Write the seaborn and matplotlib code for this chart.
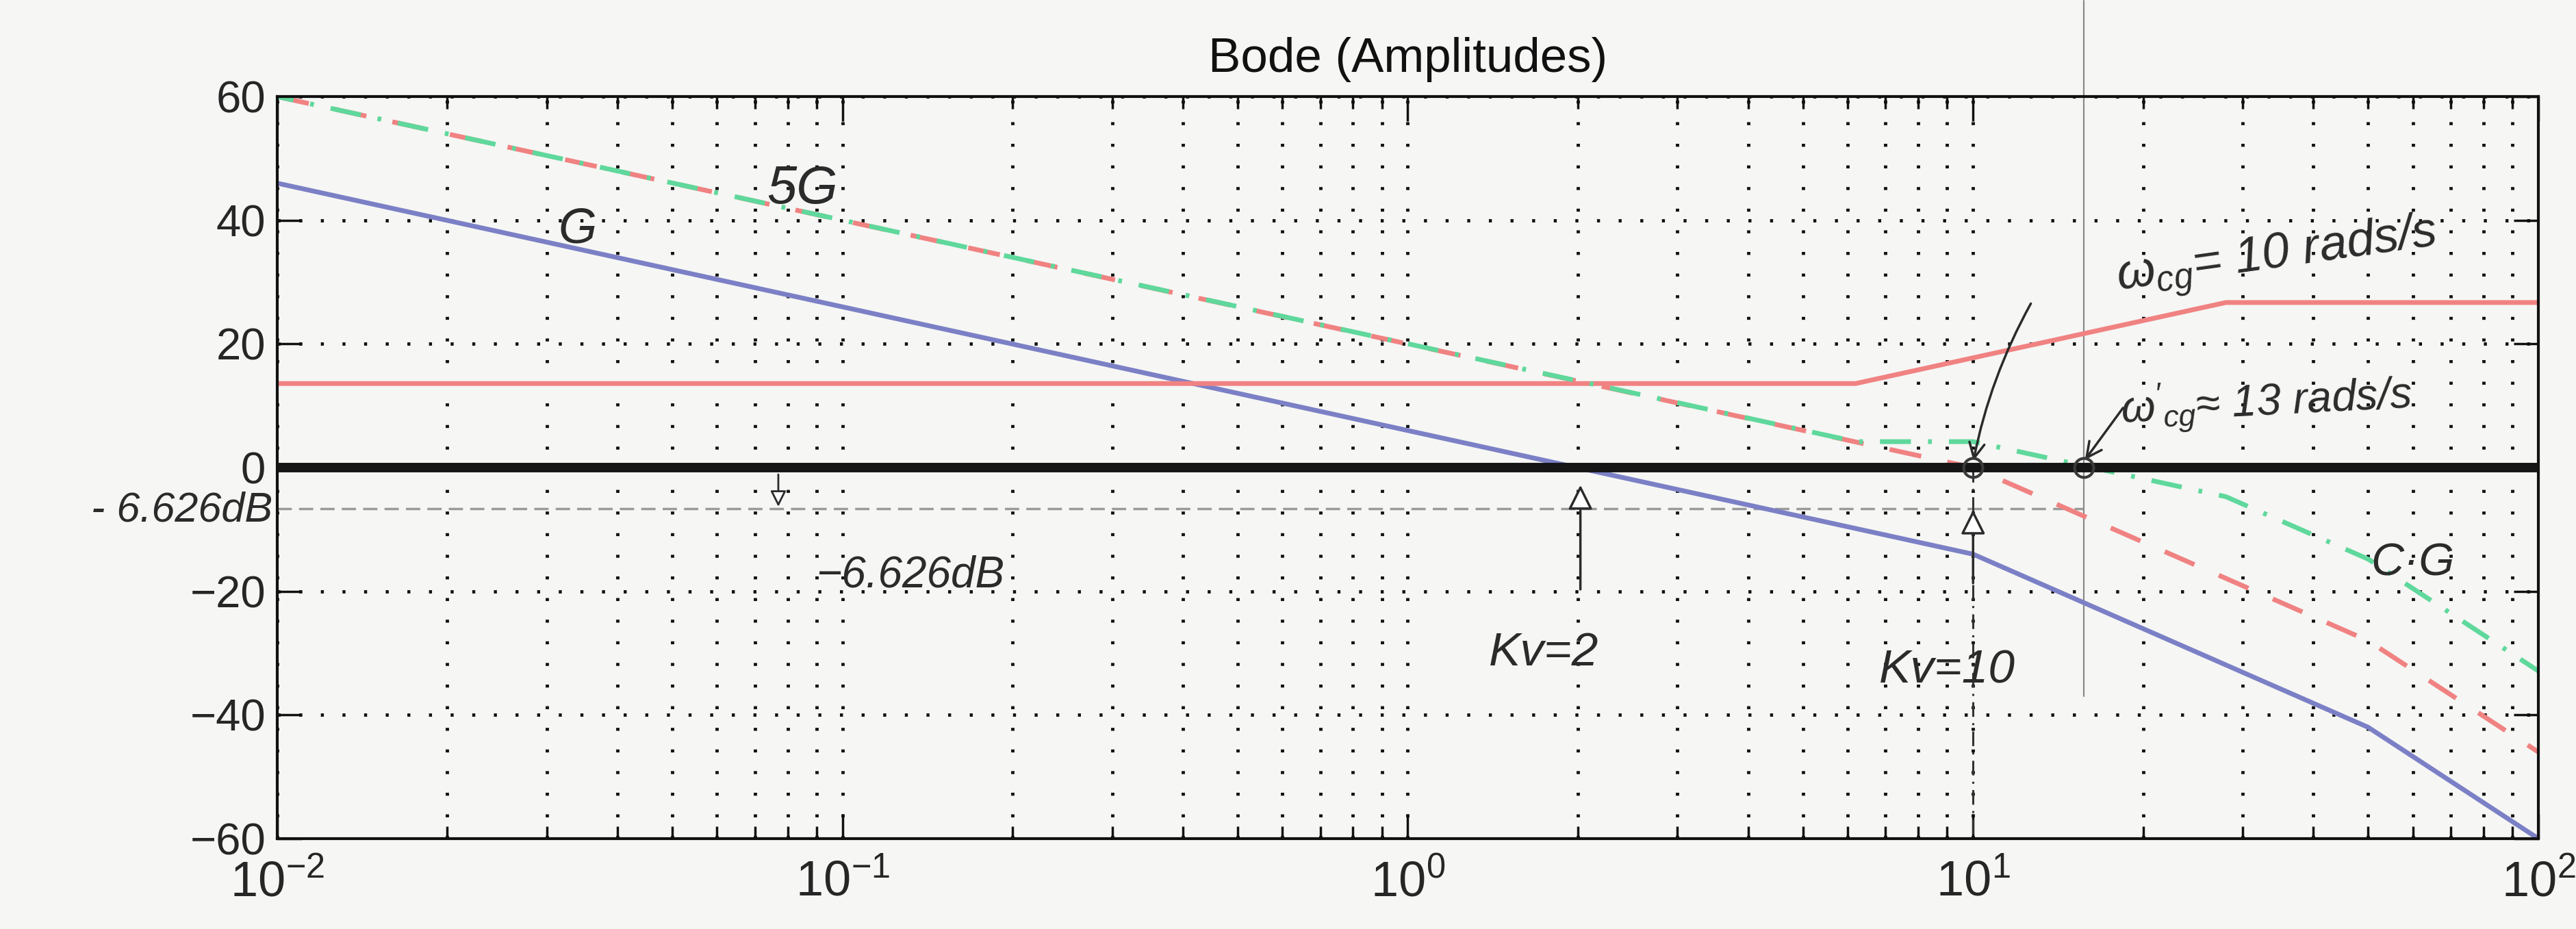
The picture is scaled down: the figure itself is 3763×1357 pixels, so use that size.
# Bode (Amplitudes) - asymptotic magnitude plot with hand notes
import seaborn as sns
import matplotlib.pyplot as plt
import pandas as pd
from matplotlib.ticker import LogLocator, NullFormatter, FixedLocator

# asymptotic magnitudes (dB)
freq_G = [0.01, 10, 50, 100]
mag_G = [46, -14, -42, -60]
freq_5G = [0.01, 10, 50, 100]
mag_5G = [60, 0, -28, -46]
freq_C = [0.01, 6.2, 28, 100]
mag_C = [13.6, 13.6, 26.7, 26.7]
freq_CG = [0.01, 6.2, 10, 28, 50, 100]
mag_CG = [60, 4.2, 4.2, -4.7, -14.8, -32.9]

y_ticks = [-60, -40, -20, 0, 20, 40, 60]
w_cg = 10        # crossover of 5G
w_cg_new = 15.7  # crossover of C*G
gain_drop = -6.626

bg = '#f6f6f4'
ink = '#2b2b2b'
blue = '#7b80c6'
red = '#f08282'
green = '#5fd89c'

sns.set_style("ticks")
plt.rcParams['font.family'] = ['Liberation Sans', 'DejaVu Sans']
plt.rcParams['mathtext.fontset'] = 'custom'
plt.rcParams['mathtext.rm'] = 'Liberation Sans'
plt.rcParams['mathtext.it'] = 'Liberation Sans:italic'
plt.rcParams['mathtext.default'] = 'regular'

fig = plt.figure(figsize=(37.63, 13.57), dpi=100, facecolor=bg)
ax = fig.add_axes([0.1076, 0.0973, 0.8778, 0.7987], facecolor=bg)

G = pd.DataFrame({'w': freq_G, 'dB': mag_G})
G5 = pd.DataFrame({'w': freq_5G, 'dB': mag_5G})
C = pd.DataFrame({'w': freq_C, 'dB': mag_C})
CG = pd.DataFrame({'w': freq_CG, 'dB': mag_CG})

lw = 5
sns.lineplot(data=G, x='w', y='dB', ax=ax, color=blue, lw=lw, zorder=2)
sns.lineplot(data=C, x='w', y='dB', ax=ax, color=red, lw=lw, zorder=2)
sns.lineplot(data=G5, x='w', y='dB', ax=ax, color=red, lw=lw,
             linestyle=(0, (6.8, 5.6)), zorder=2)
sns.lineplot(data=CG, x='w', y='dB', ax=ax, color=green, lw=lw,
             linestyle=(3, (6.5, 3.6, 0.8, 3.6)), zorder=2.1)

ax.set_xscale('log')
ax.set_xlim(0.01, 100)
ax.set_ylim(-60, 60)

# matlab style dotted grid
ax.xaxis.set_major_locator(LogLocator(base=10))
ax.xaxis.set_minor_locator(LogLocator(base=10, subs=range(2, 10)))
ax.xaxis.set_minor_formatter(NullFormatter())
ax.yaxis.set_major_locator(FixedLocator(y_ticks))
grid_kw = dict(color='#111111', lw=3.5, linestyle=(0, (0.9, 5.6)))
ax.grid(True, which='major', axis='both', **grid_kw)
ax.grid(True, which='minor', axis='x', **grid_kw)

ax.tick_params(which='both', direction='in', top=True, right=True,
               width=2.5, color='#111111')
ax.tick_params(which='major', length=26)
ax.tick_params(which='minor', length=13)
ax.tick_params(axis='x', labelsize=52, pad=22)
ax.tick_params(axis='y', labelsize=47, pad=12)
for s in ax.spines.values():
    s.set_linewidth(3)
    s.set_color('#111111')
ax.set_xlabel('')
ax.set_ylabel('')
ax.set_title('Bode (Amplitudes)', fontsize=51, pad=26, color='#111111')

# 0 dB line
ax.axhline(0, color='#151515', lw=10, zorder=3)

# hand notes
hand = dict(color=ink, style='italic', fontweight='light')
ax.plot([0.01, w_cg_new], [gain_drop, gain_drop], color='#9a9a9a', lw=2.5,
        linestyle=(0, (6, 3)), zorder=1.5)
ax.plot([w_cg, w_cg], [0, -60], color='#333333', lw=2.2,
        linestyle=(0, (7, 3, 1, 3)), zorder=1.5)
ax.plot([w_cg_new, w_cg_new], [-37, 75.5], color='#8a8a8a', lw=1.6,
        clip_on=False, zorder=1.5)
ax.plot([w_cg, w_cg_new], [0, 0], linestyle='none', marker='o', ms=20,
        mfc='none', mec='#3a3a3a', mew=3, zorder=4)

arrow_open = dict(arrowstyle='-|>', fc='white', ec=ink, lw=2.5,
                  mutation_scale=55)
ax.annotate('', xy=(2.02, -2.5), xytext=(2.02, -20), arrowprops=arrow_open)
ax.annotate('', xy=(w_cg, -6.5), xytext=(w_cg, -19), arrowprops=arrow_open)
ax.annotate('', xy=(0.077, gain_drop), xytext=(0.077, -0.8),
            arrowprops=dict(arrowstyle='-|>', fc='white', ec=ink, lw=2,
                            mutation_scale=35))
ax.annotate('', xy=(w_cg, 0.8), xytext=(12.7, 26.8),
            arrowprops=dict(arrowstyle='->', color=ink, lw=2.5,
                            mutation_scale=40,
                            connectionstyle='arc3,rad=0.08'))
ax.annotate('', xy=(w_cg_new, 1.0), xytext=(18.5, 9.9),
            arrowprops=dict(arrowstyle='->', color=ink, lw=2.5,
                            mutation_scale=40))

ax.text(0.085, 45, '5G', fontsize=56, ha='center', va='center', **hand)
ax.text(0.034, 38.5, 'G', fontsize=52, ha='center', va='center', **hand)
ax.text(60, -15.5, 'C·G', fontsize=48, ha='center', va='center', **hand)
ax.text(1.74, -30, 'Kv=2', fontsize=50, ha='center', va='center', **hand)
ax.text(9.0, -32.8, 'Kv=10', fontsize=50, ha='center', va='center', **hand)
ax.text(0.132, -17.4, '−6.626dB', fontsize=46, ha='center', va='center',
        **hand)
ax.text(34.5, 34, r'$\omega_{cg}$= 10 rads/s', fontsize=52, ha='center',
        va='center', rotation=8, **hand)
ax.text(33, 10.5, r"$\omega'_{cg}$≈ 13 rads/s", fontsize=46, ha='center',
        va='center', rotation=3, **hand)
ax.text(-0.002, -7, '- 6.626dB', transform=ax.get_yaxis_transform(),
        fontsize=44, ha='right', va='center', **hand)

fig.savefig('out.png', dpi=100, facecolor=bg)
